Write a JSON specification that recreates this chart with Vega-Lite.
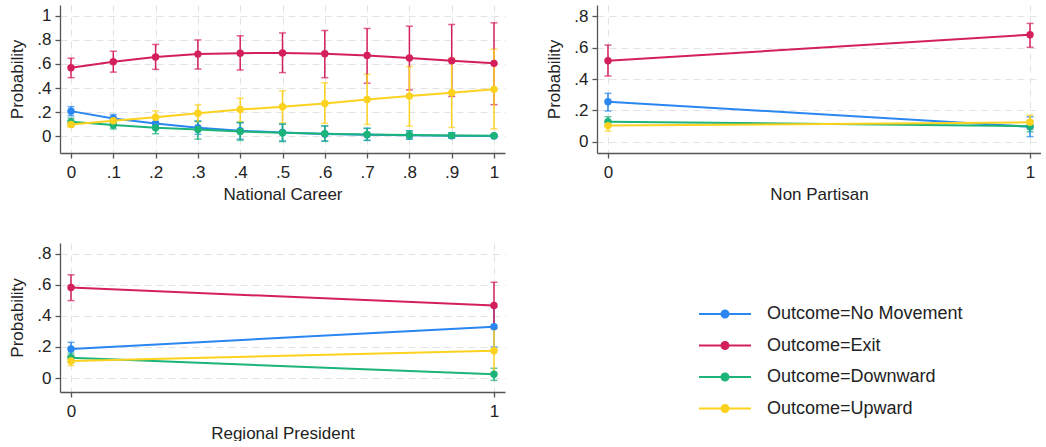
{
  "$schema": "https://vega.github.io/schema/vega-lite/v6.json",
  "background": "white",
  "padding": {"left": 8, "top": 5, "right": 0, "bottom": 0},
  "config": {
    "font": "Liberation Sans",
    "view": {"stroke": null},
    "axis": {
      "labelFont": "Liberation Sans", "titleFont": "Liberation Sans",
      "labelFontSize": 17, "titleFontSize": 17, "titleFontWeight": "normal",
      "labelColor": "#222", "titleColor": "#222",
      "domainColor": "#555", "tickColor": "#555", "domainWidth": 1.3, "tickWidth": 1.3, "tickSize": 5,
      "grid": true, "gridColor": "#e3e3e3", "gridDash": [7, 5], "gridWidth": 1,
      "labelPadding": 4, "labelOverlap": false
    },
    "axisQuantitative": {"labelOverlap": false},
    "axisX": {"titlePadding": 6, "labelPadding": 6},
    "axisY": {"titlePadding": 10, "labelOverlap": false},
    "legend": {
      "orient": "none", "legendX": 651, "legendY": 295,
      "title": null,
      "labelFont": "Liberation Sans", "labelFontSize": 18, "labelColor": "#222", "labelLimit": 0,
      "symbolType": "M-2,0H2M0.27,0A0.27,0.27 0 1 1 -0.27,0A0.27,0.27 0 1 1 0.27,0Z",
      "symbolSize": 676, "symbolStrokeWidth": 2, "labelOffset": 28, "rowPadding": 8.5
    }
  },
  "data": {"values": [
    {"panel": "NC", "outcome": "Outcome=No Movement", "x": 0, "p": 0.208, "lo": 0.17, "hi": 0.245},
    {"panel": "NC", "outcome": "Outcome=No Movement", "x": 0.1, "p": 0.147, "lo": 0.115, "hi": 0.18},
    {"panel": "NC", "outcome": "Outcome=No Movement", "x": 0.2, "p": 0.106, "lo": 0.06, "hi": 0.15},
    {"panel": "NC", "outcome": "Outcome=No Movement", "x": 0.3, "p": 0.07, "lo": 0.015, "hi": 0.125},
    {"panel": "NC", "outcome": "Outcome=No Movement", "x": 0.4, "p": 0.045, "lo": -0.025, "hi": 0.11},
    {"panel": "NC", "outcome": "Outcome=No Movement", "x": 0.5, "p": 0.03, "lo": -0.04, "hi": 0.1},
    {"panel": "NC", "outcome": "Outcome=No Movement", "x": 0.6, "p": 0.018, "lo": -0.04, "hi": 0.085},
    {"panel": "NC", "outcome": "Outcome=No Movement", "x": 0.7, "p": 0.011, "lo": -0.035, "hi": 0.065},
    {"panel": "NC", "outcome": "Outcome=No Movement", "x": 0.8, "p": 0.007, "lo": -0.025, "hi": 0.045},
    {"panel": "NC", "outcome": "Outcome=No Movement", "x": 0.9, "p": 0.004, "lo": -0.015, "hi": 0.028},
    {"panel": "NC", "outcome": "Outcome=No Movement", "x": 1, "p": 0.002, "lo": -0.005, "hi": 0.01},
    {"panel": "NC", "outcome": "Outcome=Exit", "x": 0, "p": 0.569, "lo": 0.486, "hi": 0.648},
    {"panel": "NC", "outcome": "Outcome=Exit", "x": 0.1, "p": 0.618, "lo": 0.532, "hi": 0.706},
    {"panel": "NC", "outcome": "Outcome=Exit", "x": 0.2, "p": 0.658, "lo": 0.555, "hi": 0.762},
    {"panel": "NC", "outcome": "Outcome=Exit", "x": 0.3, "p": 0.682, "lo": 0.558, "hi": 0.8},
    {"panel": "NC", "outcome": "Outcome=Exit", "x": 0.4, "p": 0.69, "lo": 0.55, "hi": 0.834},
    {"panel": "NC", "outcome": "Outcome=Exit", "x": 0.5, "p": 0.692, "lo": 0.528, "hi": 0.858},
    {"panel": "NC", "outcome": "Outcome=Exit", "x": 0.6, "p": 0.685, "lo": 0.486, "hi": 0.878},
    {"panel": "NC", "outcome": "Outcome=Exit", "x": 0.7, "p": 0.671, "lo": 0.44, "hi": 0.895},
    {"panel": "NC", "outcome": "Outcome=Exit", "x": 0.8, "p": 0.65, "lo": 0.384, "hi": 0.914},
    {"panel": "NC", "outcome": "Outcome=Exit", "x": 0.9, "p": 0.627, "lo": 0.33, "hi": 0.928},
    {"panel": "NC", "outcome": "Outcome=Exit", "x": 1, "p": 0.605, "lo": 0.262, "hi": 0.942},
    {"panel": "NC", "outcome": "Outcome=Downward", "x": 0, "p": 0.119, "lo": 0.09, "hi": 0.15},
    {"panel": "NC", "outcome": "Outcome=Downward", "x": 0.1, "p": 0.093, "lo": 0.06, "hi": 0.128},
    {"panel": "NC", "outcome": "Outcome=Downward", "x": 0.2, "p": 0.07, "lo": 0.02, "hi": 0.12},
    {"panel": "NC", "outcome": "Outcome=Downward", "x": 0.3, "p": 0.056, "lo": -0.025, "hi": 0.125},
    {"panel": "NC", "outcome": "Outcome=Downward", "x": 0.4, "p": 0.039, "lo": -0.035, "hi": 0.115},
    {"panel": "NC", "outcome": "Outcome=Downward", "x": 0.5, "p": 0.028, "lo": -0.045, "hi": 0.1},
    {"panel": "NC", "outcome": "Outcome=Downward", "x": 0.6, "p": 0.02, "lo": -0.043, "hi": 0.085},
    {"panel": "NC", "outcome": "Outcome=Downward", "x": 0.7, "p": 0.014, "lo": -0.035, "hi": 0.065},
    {"panel": "NC", "outcome": "Outcome=Downward", "x": 0.8, "p": 0.009, "lo": -0.025, "hi": 0.045},
    {"panel": "NC", "outcome": "Outcome=Downward", "x": 0.9, "p": 0.005, "lo": -0.015, "hi": 0.028},
    {"panel": "NC", "outcome": "Outcome=Downward", "x": 1, "p": 0.003, "lo": -0.005, "hi": 0.012},
    {"panel": "NC", "outcome": "Outcome=Upward", "x": 0, "p": 0.097, "lo": 0.075, "hi": 0.12},
    {"panel": "NC", "outcome": "Outcome=Upward", "x": 0.1, "p": 0.128, "lo": 0.105, "hi": 0.152},
    {"panel": "NC", "outcome": "Outcome=Upward", "x": 0.2, "p": 0.157, "lo": 0.1, "hi": 0.21},
    {"panel": "NC", "outcome": "Outcome=Upward", "x": 0.3, "p": 0.19, "lo": 0.12, "hi": 0.26},
    {"panel": "NC", "outcome": "Outcome=Upward", "x": 0.4, "p": 0.221, "lo": 0.12, "hi": 0.315},
    {"panel": "NC", "outcome": "Outcome=Upward", "x": 0.5, "p": 0.244, "lo": 0.11, "hi": 0.377},
    {"panel": "NC", "outcome": "Outcome=Upward", "x": 0.6, "p": 0.272, "lo": 0.106, "hi": 0.444},
    {"panel": "NC", "outcome": "Outcome=Upward", "x": 0.7, "p": 0.305, "lo": 0.097, "hi": 0.514},
    {"panel": "NC", "outcome": "Outcome=Upward", "x": 0.8, "p": 0.333, "lo": 0.083, "hi": 0.578},
    {"panel": "NC", "outcome": "Outcome=Upward", "x": 0.9, "p": 0.361, "lo": 0.072, "hi": 0.647},
    {"panel": "NC", "outcome": "Outcome=Upward", "x": 1, "p": 0.389, "lo": 0.061, "hi": 0.722},
    {"panel": "NP", "outcome": "Outcome=No Movement", "x": 0, "p": 0.256, "lo": 0.197, "hi": 0.309},
    {"panel": "NP", "outcome": "Outcome=No Movement", "x": 1, "p": 0.097, "lo": 0.034, "hi": 0.16},
    {"panel": "NP", "outcome": "Outcome=Exit", "x": 0, "p": 0.516, "lo": 0.419, "hi": 0.616},
    {"panel": "NP", "outcome": "Outcome=Exit", "x": 1, "p": 0.681, "lo": 0.601, "hi": 0.753},
    {"panel": "NP", "outcome": "Outcome=Downward", "x": 0, "p": 0.129, "lo": 0.1, "hi": 0.16},
    {"panel": "NP", "outcome": "Outcome=Downward", "x": 1, "p": 0.1, "lo": 0.065, "hi": 0.135},
    {"panel": "NP", "outcome": "Outcome=Upward", "x": 0, "p": 0.104, "lo": 0.07, "hi": 0.135},
    {"panel": "NP", "outcome": "Outcome=Upward", "x": 1, "p": 0.125, "lo": 0.08, "hi": 0.17},
    {"panel": "RP", "outcome": "Outcome=No Movement", "x": 0, "p": 0.187, "lo": 0.145, "hi": 0.23},
    {"panel": "RP", "outcome": "Outcome=No Movement", "x": 1, "p": 0.331, "lo": 0.2, "hi": 0.46},
    {"panel": "RP", "outcome": "Outcome=Exit", "x": 0, "p": 0.583, "lo": 0.499, "hi": 0.665},
    {"panel": "RP", "outcome": "Outcome=Exit", "x": 1, "p": 0.467, "lo": 0.32, "hi": 0.617},
    {"panel": "RP", "outcome": "Outcome=Downward", "x": 0, "p": 0.131, "lo": 0.1, "hi": 0.16},
    {"panel": "RP", "outcome": "Outcome=Downward", "x": 1, "p": 0.024, "lo": -0.015, "hi": 0.063},
    {"panel": "RP", "outcome": "Outcome=Upward", "x": 0, "p": 0.11, "lo": 0.08, "hi": 0.14},
    {"panel": "RP", "outcome": "Outcome=Upward", "x": 1, "p": 0.176, "lo": 0.03, "hi": 0.32}
  ]},
  "columns": 2,
  "spacing": {"row": 90, "column": 92},
  "bounds": "flush",
  "resolve": {"scale": {"color": "shared"}, "legend": {"color": "shared"}},
  "concat": [
    {
      "width": 445, "height": 148,
      "transform": [{"filter": "datum.panel == 'NC'"}],
      "encoding": {
        "x": {"field": "x", "type": "quantitative",
          "scale": {"domain": [-0.026, 1.026], "nice": false, "zero": false},
          "axis": {"title": "National Career", "values": [0, 0.1, 0.2, 0.3, 0.4, 0.5, 0.6, 0.7, 0.8, 0.9, 1], "labelOverlap": false,
            "labelExpr": "datum.value == 0 ? '0' : datum.value == 1 ? '1' : replace(format(datum.value, '.1f'), '0.', '.')"}},
        "color": {"field": "outcome", "type": "nominal",
          "scale": {"domain": ["Outcome=No Movement", "Outcome=Exit", "Outcome=Downward", "Outcome=Upward"],
                    "range": ["#2a86f0", "#d41f5d", "#1db47a", "#fcd21e"]},
          "legend": {"encode": {"symbols": {"update": {"fill": {"scale": "color", "field": "value"}, "stroke": {"scale": "color", "field": "value"}, "opacity": {"value": 1}}}}}}
      },
      "layer": [
        {"mark": {"type": "errorbar", "ticks": true, "size": 7, "thickness": 1.5},
         "encoding": {"y": {"field": "lo", "type": "quantitative",
            "scale": {"domain": [-0.14, 1.09], "nice": false, "zero": false},
            "axis": {"title": "Probability", "values": [0, 0.2, 0.4, 0.6, 0.8, 1], "labelOverlap": false,
              "labelExpr": "datum.value == 0 ? '0' : datum.value == 1 ? '1' : replace(format(datum.value, '.1f'), '0.', '.')"}},
           "y2": {"field": "hi"}}},
        {"mark": {"type": "line", "strokeWidth": 2}, "encoding": {"y": {"field": "p", "type": "quantitative",
            "axis": {"title": "Probability", "values": [0, 0.2, 0.4, 0.6, 0.8, 1], "labelOverlap": false,
              "labelExpr": "datum.value == 0 ? '0' : datum.value == 1 ? '1' : replace(format(datum.value, '.1f'), '0.', '.')"}}}},
        {"mark": {"type": "point", "filled": true, "size": 55, "opacity": 1}, "encoding": {"y": {"field": "p", "type": "quantitative",
            "axis": {"title": "Probability", "values": [0, 0.2, 0.4, 0.6, 0.8, 1], "labelOverlap": false,
              "labelExpr": "datum.value == 0 ? '0' : datum.value == 1 ? '1' : replace(format(datum.value, '.1f'), '0.', '.')"}}}}
      ]
    },
    {
      "width": 444, "height": 148,
      "transform": [{"filter": "datum.panel == 'NP'"}],
      "encoding": {
        "x": {"field": "x", "type": "quantitative",
          "scale": {"domain": [-0.026, 1.026], "nice": false, "zero": false},
          "axis": {"title": "Non Partisan", "values": [0, 1], "format": "d"}},
        "color": {"field": "outcome", "type": "nominal",
          "scale": {"domain": ["Outcome=No Movement", "Outcome=Exit", "Outcome=Downward", "Outcome=Upward"],
                    "range": ["#2a86f0", "#d41f5d", "#1db47a", "#fcd21e"]}}
      },
      "layer": [
        {"mark": {"type": "errorbar", "ticks": true, "size": 7, "thickness": 1.5},
         "encoding": {"y": {"field": "lo", "type": "quantitative",
            "scale": {"domain": [-0.07, 0.87], "nice": false, "zero": false},
            "axis": {"title": "Probability", "values": [0, 0.2, 0.4, 0.6, 0.8], "labelOverlap": false,
              "labelExpr": "datum.value == 0 ? '0' : replace(format(datum.value, '.1f'), '0.', '.')"}},
           "y2": {"field": "hi"}}},
        {"mark": {"type": "line", "strokeWidth": 2}, "encoding": {"y": {"field": "p", "type": "quantitative",
            "axis": {"title": "Probability", "values": [0, 0.2, 0.4, 0.6, 0.8], "labelOverlap": false,
              "labelExpr": "datum.value == 0 ? '0' : replace(format(datum.value, '.1f'), '0.', '.')"}}}},
        {"mark": {"type": "point", "filled": true, "size": 55, "opacity": 1}, "encoding": {"y": {"field": "p", "type": "quantitative",
            "axis": {"title": "Probability", "values": [0, 0.2, 0.4, 0.6, 0.8], "labelOverlap": false,
              "labelExpr": "datum.value == 0 ? '0' : replace(format(datum.value, '.1f'), '0.', '.')"}}}}
      ]
    },
    {
      "width": 445, "height": 149,
      "transform": [{"filter": "datum.panel == 'RP'"}],
      "encoding": {
        "x": {"field": "x", "type": "quantitative",
          "scale": {"domain": [-0.026, 1.026], "nice": false, "zero": false},
          "axis": {"title": "Regional President", "values": [0, 1], "format": "d"}},
        "color": {"field": "outcome", "type": "nominal",
          "scale": {"domain": ["Outcome=No Movement", "Outcome=Exit", "Outcome=Downward", "Outcome=Upward"],
                    "range": ["#2a86f0", "#d41f5d", "#1db47a", "#fcd21e"]}}
      },
      "layer": [
        {"mark": {"type": "errorbar", "ticks": true, "size": 7, "thickness": 1.5},
         "encoding": {"y": {"field": "lo", "type": "quantitative",
            "scale": {"domain": [-0.09, 0.87], "nice": false, "zero": false},
            "axis": {"title": "Probability", "values": [0, 0.2, 0.4, 0.6, 0.8], "labelOverlap": false,
              "labelExpr": "datum.value == 0 ? '0' : replace(format(datum.value, '.1f'), '0.', '.')"}},
           "y2": {"field": "hi"}}},
        {"mark": {"type": "line", "strokeWidth": 2}, "encoding": {"y": {"field": "p", "type": "quantitative",
            "axis": {"title": "Probability", "values": [0, 0.2, 0.4, 0.6, 0.8], "labelOverlap": false,
              "labelExpr": "datum.value == 0 ? '0' : replace(format(datum.value, '.1f'), '0.', '.')"}}}},
        {"mark": {"type": "point", "filled": true, "size": 55, "opacity": 1}, "encoding": {"y": {"field": "p", "type": "quantitative",
            "axis": {"title": "Probability", "values": [0, 0.2, 0.4, 0.6, 0.8], "labelOverlap": false,
              "labelExpr": "datum.value == 0 ? '0' : replace(format(datum.value, '.1f'), '0.', '.')"}}}}
      ]
    }
  ]
}
